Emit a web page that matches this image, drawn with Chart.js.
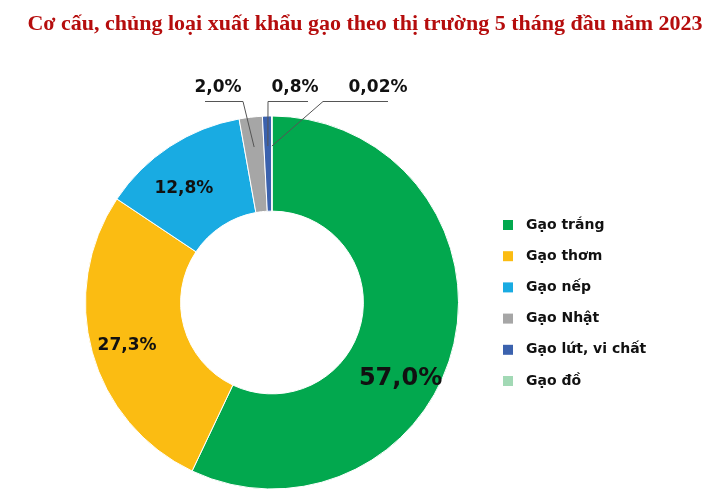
<!DOCTYPE html>
<html>
<head>
<meta charset="utf-8">
<script src="https://cdn.jsdelivr.net/npm/chart.js@4"></script>
<style>
  html, body { margin: 0; padding: 0; background: #fff; }
  #wrap { width: 717px; height: 501px; position: relative; }
</style>
</head>
<body>
<div id="wrap"><canvas id="chart" width="717" height="501"></canvas></div>
<script>
// data
const title = "Cơ cấu, chủng loại xuất khẩu gạo theo thị trường 5 tháng đầu năm 2023";
const categories = ["Gạo trắng", "Gạo thơm", "Gạo nếp", "Gạo Nhật", "Gạo lứt, vi chất", "Gạo đồ"];
const shares = [57.0, 27.3, 12.8, 2.0, 0.8, 0.02];
const shareLabels = ["57,0%", "27,3%", "12,8%", "2,0%", "0,8%", "0,02%"];
const colors = ["#02a84e", "#fbbc12", "#19abe2", "#a6a6a6", "#3b62ae", "#a2d9b5"];

const FONT = "'DejaVu Sans', sans-serif";

// labels, leader lines, legend and title
const labelPlugin = {
  id: "labels",
  afterDraw(chart) {
    const ctx = chart.ctx;
    const meta = chart.getDatasetMeta(0);
    ctx.save();

    // title
    ctx.fillStyle = "#b50d0d";
    ctx.font = "bold 22px 'Liberation Serif', serif";
    ctx.textAlign = "center";
    ctx.textBaseline = "alphabetic";
    ctx.fillText(title, 365, 30);

    // big slices: label inside the ring
    ctx.fillStyle = "#111";
    ctx.textBaseline = "middle";
    [0, 1, 2].forEach((i) => {
      const arc = meta.data[i];
      const mid = (arc.startAngle + arc.endAngle) / 2;
      const r = (arc.innerRadius + arc.outerRadius) / 2;
      const offs = [[-7, 46], [-11, 6], [-12, 2]][i];
      const x = arc.x + Math.cos(mid) * r + offs[0];
      const y = arc.y + Math.sin(mid) * r + offs[1];
      ctx.font = i === 0 ? "bold 24px " + FONT : "bold 17px " + FONT;
      ctx.fillText(shareLabels[i], x, y);
    });

    // small slices: label above with leader line
    const topLabels = [
      { i: 3, tx: 218, lx0: 205, lx1: 243, elbow: 243 },
      { i: 4, tx: 295, lx0: 268, lx1: 308, elbow: 268 },
      { i: 5, tx: 378, lx0: 323, lx1: 388, elbow: 323 },
    ];
    topLabels.forEach((t) => {
      const arc = meta.data[t.i];
      const mid = (arc.startAngle + arc.endAngle) / 2;
      const r = arc.outerRadius - 30;
      const px = arc.x + Math.cos(mid) * r;
      const py = arc.y + Math.sin(mid) * r;
      ctx.strokeStyle = "#555";
      ctx.lineWidth = 1;
      ctx.beginPath();
      ctx.moveTo(t.lx0, 101.5);
      ctx.lineTo(t.lx1, 101.5);
      ctx.moveTo(t.elbow, 101.5);
      ctx.lineTo(px, py);
      ctx.stroke();
      ctx.fillStyle = "#111";
      ctx.font = "bold 17px " + FONT;
      ctx.textAlign = "center";
      ctx.fillText(shareLabels[t.i], t.tx, 88);
    });

    // legend
    ctx.textAlign = "left";
    ctx.font = "bold 14px " + FONT;
    categories.forEach((c, i) => {
      const y = 225 + i * 31.2;
      ctx.fillStyle = colors[i];
      ctx.fillRect(503, y - 5, 10, 10);
      ctx.fillStyle = "#111";
      ctx.fillText(c, 526, y);
    });
    ctx.restore();
  },
};

new Chart(document.getElementById("chart"), {
  type: "doughnut",
  data: {
    labels: categories,
    datasets: [
      {
        data: shares,
        backgroundColor: colors,
        borderColor: "#fff",
        borderWidth: 1,
      },
    ],
  },
  options: {
    responsive: false,
    animation: false,
    cutout: "49%",
    layout: { padding: { top: 115, bottom: 11, left: 85, right: 258 } },
    plugins: {
      legend: { display: false },
      tooltip: { enabled: false },
    },
  },
  plugins: [labelPlugin],
});
</script>
</body>
</html>
